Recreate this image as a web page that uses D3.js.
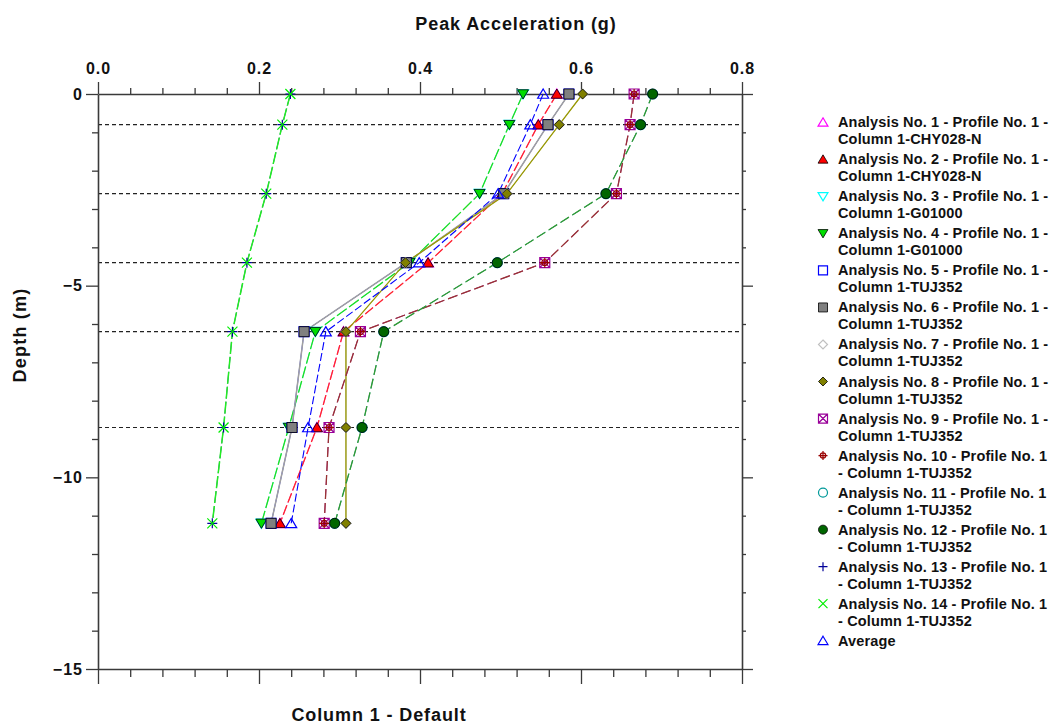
<!DOCTYPE html>
<html>
<head>
<meta charset="utf-8">
<script src="https://cdn.jsdelivr.net/npm/d3@7/dist/d3.min.js"></script>
<style>
  html, body { margin: 0; padding: 0; background: #ffffff; }
  svg { display: block; font-family: "Liberation Sans", Arial, sans-serif; }
</style>
</head>
<body>
<svg id="chart" width="1050" height="724"></svg>
<script>
// ---------------- DATA ----------------
const depths = [0, -0.8, -2.6, -4.4, -6.2, -8.7, -11.2];
const layerBoundaries = [-0.8, -2.6, -4.4, -6.2, -8.7];
const xMajorTicks = [0, 0.2, 0.4, 0.6, 0.8];
const yMajorTicks = [0, -5, -10, -15];
const xMinorTicks = [0.04, 0.08, 0.12, 0.16, 0.24, 0.28, 0.32, 0.36, 0.44, 0.48, 0.52, 0.56, 0.64, 0.68, 0.72, 0.76];
const yMinorTicks = [-1, -2, -3, -4, -6, -7, -8, -9, -11, -12, -13, -14];

const analysis1  = [0.570, 0.547, 0.502, 0.410, 0.305, 0.272, 0.226];
const analysis2  = [0.570, 0.547, 0.502, 0.410, 0.305, 0.272, 0.226];
const analysis3  = [0.528, 0.511, 0.474, 0.387, 0.270, 0.237, 0.203];
const analysis4  = [0.528, 0.511, 0.474, 0.387, 0.270, 0.237, 0.203];
const analysis5  = [0.585, 0.559, 0.504, 0.383, 0.256, 0.241, 0.215];
const analysis6  = [0.585, 0.559, 0.504, 0.383, 0.256, 0.241, 0.215];
const analysis7  = [0.602, 0.573, 0.508, 0.382, 0.308, 0.308, 0.308];
const analysis8  = [0.602, 0.573, 0.508, 0.382, 0.308, 0.308, 0.308];
const analysis9  = [0.666, 0.661, 0.644, 0.555, 0.326, 0.287, 0.281];
const analysis10 = [0.666, 0.661, 0.644, 0.555, 0.326, 0.287, 0.281];
const analysis11 = [0.689, 0.674, 0.631, 0.496, 0.355, 0.328, 0.294];
const analysis12 = [0.689, 0.674, 0.631, 0.496, 0.355, 0.328, 0.294];
const analysis13 = [0.239, 0.229, 0.209, 0.185, 0.167, 0.156, 0.142];
const analysis14 = [0.239, 0.229, 0.209, 0.185, 0.167, 0.156, 0.142];
const average    = [0.553, 0.537, 0.497, 0.399, 0.283, 0.261, 0.240];

const legendLine1 = [
  "Analysis No. 1 - Profile No. 1 -", "Analysis No. 2 - Profile No. 1 -",
  "Analysis No. 3 - Profile No. 1 -", "Analysis No. 4 - Profile No. 1 -",
  "Analysis No. 5 - Profile No. 1 -", "Analysis No. 6 - Profile No. 1 -",
  "Analysis No. 7 - Profile No. 1 -", "Analysis No. 8 - Profile No. 1 -",
  "Analysis No. 9 - Profile No. 1 -", "Analysis No. 10 - Profile No. 1",
  "Analysis No. 11 - Profile No. 1", "Analysis No. 12 - Profile No. 1",
  "Analysis No. 13 - Profile No. 1", "Analysis No. 14 - Profile No. 1",
  "Average"];
const legendLine2 = [
  "Column 1-CHY028-N", "Column 1-CHY028-N", "Column 1-G01000", "Column 1-G01000",
  "Column 1-TUJ352", "Column 1-TUJ352", "Column 1-TUJ352", "Column 1-TUJ352",
  "Column 1-TUJ352", "- Column 1-TUJ352", "- Column 1-TUJ352", "- Column 1-TUJ352",
  "- Column 1-TUJ352", "- Column 1-TUJ352", ""];

const xTitle = "Peak Acceleration (g)";
const yTitle = "Depth (m)";
const bottomTitle = "Column 1 - Default";

// ---------------- STYLES ----------------
const seriesValues = [analysis1, analysis2, analysis3, analysis4, analysis5, analysis6, analysis7,
  analysis8, analysis9, analysis10, analysis11, analysis12, analysis13, analysis14, average];
const styles = [
  {marker: "triUp",   fill: "none",    stroke: "#ff00ff", line: "#ff00ff", dash: "10,3", w: 0.9},
  {marker: "triUp",   fill: "#ff0000", stroke: "#000000", line: "#ff2a2a", dash: "10,3", w: 1.3},
  {marker: "triDown", fill: "none",    stroke: "#00ffff", line: "#00ffff", dash: "12,3", w: 0.9},
  {marker: "triDown", fill: "#00dd00", stroke: "#000000", line: "#22dd22", dash: "12,3", w: 1.3},
  {marker: "square",  fill: "none",    stroke: "#0000ff", line: "#0000ff", dash: null,   w: 0.8},
  {marker: "square",  fill: "#808080", stroke: "#000000", line: "#a0a0a0", dash: null,   w: 1.5},
  {marker: "diamond", fill: "none",    stroke: "#c0c0c0", line: "#c0c0c0", dash: null,   w: 0.9},
  {marker: "diamond", fill: "#808000", stroke: "#000000", line: "#999900", dash: null,   w: 1.3},
  {marker: "squareX", fill: "none",    stroke: "#990099", line: "#990099", dash: "10,4", w: 0.9},
  {marker: "crossCircle", fill: "none", stroke: "#990000", line: "#993333", dash: "10,4", w: 1.3},
  {marker: "circle",  fill: "none",    stroke: "#009999", line: "#009999", dash: "10,4", w: 0.9},
  {marker: "circle",  fill: "#006600", stroke: "#000000", line: "#339933", dash: "10,4", w: 1.3},
  {marker: "plus",    fill: "none",    stroke: "#000099", line: "#000099", dash: "12,3", w: 0.8},
  {marker: "x",       fill: "none",    stroke: "#00ee00", line: "#22ee22", dash: "12,3", w: 1.5},
  {marker: "triUp",   fill: "none",    stroke: "#0000ff", line: "#0000ff", dash: "8,3",  w: 1.1}
];

// ---------------- SCALES ----------------
const svg = d3.select("#chart");
const x = d3.scaleLinear().domain([0, 0.8]).range([98, 742]);
const y = d3.scaleLinear().domain([0, -15]).range([94, 669]);
const axisColor = "#3a3a3a";
const textColor = "#111111";

function markerPath(type, r) {
  switch (type) {
    case "triUp":   return `M0,${-r} L${r*1.1},${r*0.85} L${-r*1.1},${r*0.85} Z`;
    case "triDown": return `M0,${r} L${r*1.1},${-r*0.85} L${-r*1.1},${-r*0.85} Z`;
    case "square":  return `M${-r},${-r} H${r} V${r} H${-r} Z`;
    case "diamond": return `M0,${-r} L${r},0 L0,${r} L${-r},0 Z`;
    case "squareX": return `M${-r},${-r} H${r} V${r} H${-r} Z M${-r},${-r} L${r},${r} M${r},${-r} L${-r},${r}`;
    case "crossCircle": return `M${-r},0 H${r} M0,${-r} V${r} M${r*0.6},0 A${r*0.6},${r*0.6} 0 1,1 ${-r*0.6},0 A${r*0.6},${r*0.6} 0 1,1 ${r*0.6},0`;
    case "circle":  return `M${r},0 A${r},${r} 0 1,1 ${-r},0 A${r},${r} 0 1,1 ${r},0 Z`;
    case "plus":    return `M${-r},0 H${r} M0,${-r} V${r}`;
    case "x":       return `M${-r},${-r} L${r},${r} M${r},${-r} L${-r},${r}`;
  }
}

// ---------------- DOTTED LAYER LINES ----------------
svg.append("g").selectAll("line").data(layerBoundaries).join("line")
  .attr("x1", x(0)).attr("x2", x(0.8))
  .attr("y1", d => y(d)).attr("y2", d => y(d))
  .attr("stroke", "#222").attr("stroke-width", 1.2).attr("stroke-dasharray", "4,3");

// ---------------- AXES ----------------
function styleAxis(g) {
  g.selectAll("path.domain").attr("stroke", axisColor).attr("stroke-width", 1.6);
  g.selectAll(".tick line").attr("stroke", axisColor).attr("stroke-width", 1.3);
  g.selectAll(".tick text").attr("fill", textColor)
    .style("font-size", "16px").style("font-weight", "bold").style("letter-spacing", "1px");
}
// top
svg.append("g").attr("transform", `translate(0,${y(0)})`)
  .call(d3.axisTop(x).tickValues(xMinorTicks).tickSize(6).tickFormat(""))
  .call(g => g.select(".domain").remove()).call(styleAxis);
svg.append("g").attr("transform", `translate(0,${y(0)})`)
  .call(d3.axisTop(x).tickValues(xMajorTicks).tickSize(12).tickSizeOuter(0).tickPadding(8).tickFormat(d3.format(".1f")))
  .call(styleAxis);
// bottom
svg.append("g").attr("transform", `translate(0,${y(-15)})`)
  .call(d3.axisBottom(x).tickValues(xMinorTicks).tickSize(8).tickFormat(""))
  .call(g => g.select(".domain").remove()).call(styleAxis);
svg.append("g").attr("transform", `translate(0,${y(-15)})`)
  .call(d3.axisBottom(x).tickValues(xMajorTicks).tickSize(15).tickSizeOuter(0).tickFormat(""))
  .call(styleAxis);
// left
svg.append("g").attr("transform", `translate(${x(0)},0)`)
  .call(d3.axisLeft(y).tickValues(yMinorTicks).tickSize(6).tickFormat(""))
  .call(g => g.select(".domain").remove()).call(styleAxis);
svg.append("g").attr("transform", `translate(${x(0)},0)`)
  .call(d3.axisLeft(y).tickValues(yMajorTicks).tickSize(12).tickSizeOuter(0).tickPadding(3).tickFormat(d3.format("d")))
  .call(styleAxis);
// right
svg.append("g").attr("transform", `translate(${x(0.8)},0)`)
  .call(d3.axisRight(y).tickValues(yMinorTicks).tickSize(4).tickFormat(""))
  .call(g => g.select(".domain").remove()).call(styleAxis);
svg.append("g").attr("transform", `translate(${x(0.8)},0)`)
  .call(d3.axisRight(y).tickValues(yMajorTicks).tickSize(11).tickSizeOuter(0).tickFormat(""))
  .call(styleAxis);

// ---------------- TITLES ----------------
svg.append("text").attr("x", 516).attr("y", 30).attr("text-anchor", "middle")
  .attr("fill", textColor).style("font-size", "18px").style("font-weight", "bold").style("letter-spacing", "0.9px")
  .text(xTitle);
svg.append("text").attr("x", 379).attr("y", 721).attr("text-anchor", "middle")
  .attr("fill", textColor).style("font-size", "18px").style("font-weight", "bold").style("letter-spacing", "0.9px")
  .text(bottomTitle);
svg.append("text").attr("transform", "translate(26,335) rotate(-90)").attr("text-anchor", "middle")
  .attr("fill", textColor).style("font-size", "18px").style("font-weight", "bold").style("letter-spacing", "1.2px")
  .text(yTitle);

// ---------------- SERIES ----------------
const line = d3.line().x(d => x(d.v)).y(d => y(d.d));
const plotG = svg.append("g");
seriesValues.forEach((vals, i) => {
  const pts = vals.map((v, k) => ({v: v, d: depths[k]}));
  plotG.append("path").datum(pts).attr("d", line)
    .attr("fill", "none").attr("stroke", styles[i].line).attr("stroke-width", styles[i].w)
    .attr("stroke-dasharray", styles[i].dash);
});
seriesValues.forEach((vals, i) => {
  const st = styles[i];
  const pts = vals.map((v, k) => ({v: v, d: depths[k]}));
  plotG.append("g").selectAll("path").data(pts).join("path")
    .attr("transform", d => `translate(${x(d.v)},${y(d.d)})`)
    .attr("d", markerPath(st.marker, 5))
    .attr("fill", st.fill).attr("stroke", st.stroke)
    .attr("stroke-width", st.fill === "none" ? 1.2 : 0.8);
});

// ---------------- LEGEND ----------------
const legend = svg.append("g");
legendLine1.forEach((t, i) => {
  const cy = 122.3 + 37.03 * i;
  const st = styles[i];
  legend.append("path").attr("transform", `translate(823,${cy})`)
    .attr("d", markerPath(st.marker, 4.5))
    .attr("fill", st.fill).attr("stroke", st.stroke)
    .attr("stroke-width", st.fill === "none" ? 1.2 : 0.8);
  legend.append("text").attr("x", 838).attr("y", cy + 5)
    .attr("fill", textColor).style("font-size", "14.5px").style("font-weight", "bold")
    .style("letter-spacing", "0.15px")
    .text(t);
  if (legendLine2[i]) {
    legend.append("text").attr("x", 838).attr("y", cy + 22)
      .attr("fill", textColor).style("font-size", "14.5px").style("font-weight", "bold")
      .style("letter-spacing", "0.15px")
      .text(legendLine2[i]);
  }
});
</script>
</body>
</html>
